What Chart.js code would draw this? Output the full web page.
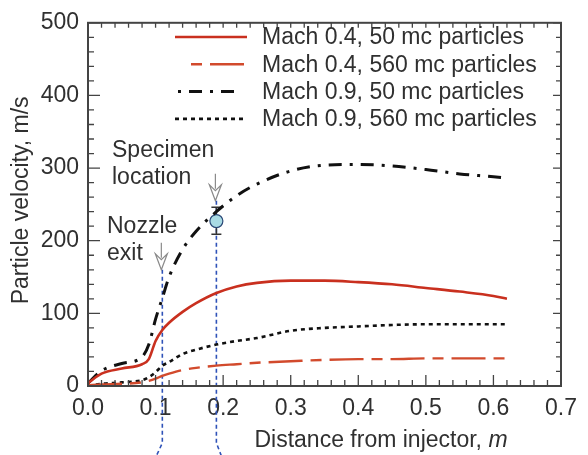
<!DOCTYPE html>
<html>
<head>
<meta charset="utf-8">
<script src="https://cdn.jsdelivr.net/npm/chart.js@4"></script>
<style>
    html, body { margin: 0; padding: 0; background: #fff; }
    canvas { display: block; }
</style>
</head>
<body>
<canvas id="chart" width="588" height="455"></canvas>
<script>
// distance from injector, m
const distance = [0, 0.02, 0.05, 0.08, 0.09, 0.1, 0.11, 0.12, 0.14, 0.16, 0.19, 0.22, 0.25, 0.3, 0.35, 0.4, 0.45, 0.5, 0.55, 0.6, 0.62];

// particle velocity, m/s
const mach04Small = [4, 17, 24, 30, 37, 62, 77, 87, 102, 114, 128, 137, 142, 145, 145, 143, 140, 135, 130, 124, 120];
const mach04Large = [1, 2, 3, 5, 7, 10, 14, 17, 22, 25, 28, 30, 32, 34, 36, 37, 37, 38, 38, 38, 38];
const mach09Small = [4, 21, 31, 40, 57, 92, 121, 150, 188, 213, 240, 262, 278, 296, 304, 305, 303, 298, 292, 288, 286];
const mach09Large = [0, 3, 5, 8, 12, 19, 28, 33, 44, 50, 57, 62, 66, 76, 80, 82, 84, 85, 85, 85, 85];

const seriesNames = [
    "Mach 0.4, 50 mc particles",
    "Mach 0.4, 560 mc particles",
    "Mach 0.9, 50 mc particles",
    "Mach 0.9, 560 mc particles"
];

// measured velocity at the specimen
const measuredX = [0.19];
const measuredY = [227];
const measuredLow = [209];
const measuredHigh = [246];

// nozzle exit and specimen location markers
const markerX = [0.11, 0.19];
const markerTop = [160, 255];

const xTicks = [0, 0.1, 0.2, 0.3, 0.4, 0.5, 0.6, 0.7];
const yTicks = [0, 100, 200, 300, 400, 500];

const FONT = "'Liberation Sans', Arial, sans-serif";
const TEXT = "#303030";

function points(values) {
    return distance.map((d, i) => ({ x: d, y: values[i] }));
}

const decor = {
    id: "decor",
    beforeDatasetsDraw(chart) {
        const { ctx, scales: { x, y } } = chart;

        ctx.save();
        ctx.strokeStyle = "#2f52b8";
        ctx.lineWidth = 1.6;
        ctx.setLineDash([4, 3]);
        markerX.forEach((mx, i) => {
            const px = x.getPixelForValue(mx);
            const bend = i === 0 ? -6 : 5;
            ctx.beginPath();
            ctx.moveTo(px, y.getPixelForValue(markerTop[i]));
            ctx.lineTo(px, 443);
            ctx.lineTo(px + bend, 456);
            ctx.stroke();
        });
        ctx.setLineDash([]);

        // error bar
        ctx.strokeStyle = "#333";
        ctx.lineWidth = 1.5;
        measuredX.forEach((mx, i) => {
            const px = x.getPixelForValue(mx);
            const lo = y.getPixelForValue(measuredLow[i]);
            const hi = y.getPixelForValue(measuredHigh[i]);
            ctx.beginPath();
            ctx.moveTo(px, lo);
            ctx.lineTo(px, hi);
            ctx.moveTo(px - 5, lo);
            ctx.lineTo(px + 5, lo);
            ctx.moveTo(px - 5, hi);
            ctx.lineTo(px + 5, hi);
            ctx.stroke();
        });
        ctx.restore();
    },
    afterDatasetsDraw(chart) {
        const { ctx, chartArea: a, scales: { x, y } } = chart;

        ctx.save();
        ctx.strokeStyle = "#444";
        ctx.lineWidth = 2;
        ctx.strokeRect(a.left, a.top, a.right - a.left, a.bottom - a.top);

        // tick marks, pointing inward
        ctx.lineWidth = 1.3;
        ctx.beginPath();
        for (let i = 0; i <= 35; i++) {
            const px = x.getPixelForValue(i * 0.02);
            const major = i % 5 === 0;
            ctx.moveTo(px, a.bottom);
            ctx.lineTo(px, a.bottom - (major ? 11 : 6));
            ctx.moveTo(px, a.top);
            ctx.lineTo(px, a.top + 5);
        }
        for (let i = 0; i <= 25; i++) {
            const py = y.getPixelForValue(i * 20);
            const major = i % 5 === 0;
            ctx.moveTo(a.left, py);
            ctx.lineTo(a.left + (major ? 12 : 6), py);
            ctx.moveTo(a.right, py);
            ctx.lineTo(a.right - (major ? 8 : 5), py);
        }
        ctx.stroke();

        // arrows
        ctx.strokeStyle = "#8a8a8a";
        ctx.fillStyle = "#fff";
        ctx.lineWidth = 1.2;
        markerX.forEach((mx, i) => {
            const px = x.getPixelForValue(mx) - 1;
            const tip = y.getPixelForValue(markerTop[i]);
            ctx.beginPath();
            ctx.moveTo(px, tip - 27);
            ctx.lineTo(px, tip - 12);
            ctx.stroke();
            ctx.beginPath();
            ctx.moveTo(px, tip);
            ctx.lineTo(px - 6, tip - 16);
            ctx.lineTo(px, tip - 10);
            ctx.lineTo(px + 6, tip - 16);
            ctx.closePath();
            ctx.fill();
            ctx.stroke();
        });

        // annotation text
        ctx.fillStyle = TEXT;
        ctx.font = "23px " + FONT;
        ctx.textAlign = "left";
        ctx.textBaseline = "middle";
        ctx.fillText("Specimen", 112, 151);
        ctx.fillText("location", 112, 178);
        ctx.fillText("Nozzle", 107, 227);
        ctx.fillText("exit", 107, 254);

        // legend
        const sets = chart.data.datasets.slice(0, 4);
        sets.forEach((ds, i) => {
            const ly = 37 + i * 27.3;
            ctx.strokeStyle = ds.borderColor;
            ctx.lineWidth = ds.borderWidth;
            ctx.setLineDash(ds.borderDash || []);
            ctx.lineDashOffset = ds.legendOffset || 0;
            ctx.beginPath();
            ctx.moveTo(ds.legendStart || 175, ly);
            ctx.lineTo(ds.legendEnd || 247, ly);
            ctx.stroke();
            ctx.setLineDash([]);
            ctx.fillStyle = TEXT;
            ctx.fillText(ds.label, 262, ly + 1);
        });

        // axis titles
        const main = "Distance from injector, ";
        ctx.font = "23px " + FONT;
        const w1 = ctx.measureText(main).width;
        ctx.font = "italic 23px " + FONT;
        const w2 = ctx.measureText("m").width;
        const start = 381 - (w1 + w2) / 2;
        ctx.font = "23px " + FONT;
        ctx.fillText(main, start, 441);
        ctx.font = "italic 23px " + FONT;
        ctx.fillText("m", start + w1, 441);

        ctx.translate(22, (a.top + a.bottom) / 2 - 4);
        ctx.rotate(-Math.PI / 2);
        ctx.textAlign = "center";
        ctx.font = "23px " + FONT;
        ctx.fillText("Particle velocity, m/s", 0, 0);
        ctx.restore();
    }
};

new Chart(document.getElementById("chart"), {
    type: "line",
    data: {
        datasets: [
            {
                label: seriesNames[0],
                data: points(mach04Small),
                borderColor: "#c9301f",
                borderWidth: 2.6
            },
            {
                label: seriesNames[1],
                data: points(mach04Large),
                borderColor: "#d24a2c",
                borderWidth: 2.4,
                borderDash: [34, 8, 11, 8],
                legendStart: 191,
                legendOffset: 42
            },
            {
                label: seriesNames[2],
                data: points(mach09Small),
                borderColor: "#111",
                borderWidth: 3,
                borderDash: [13, 8, 3, 8],
                legendStart: 178,
                legendEnd: 240,
                legendOffset: 21
            },
            {
                label: seriesNames[3],
                data: points(mach09Large),
                borderColor: "#111",
                borderWidth: 2.6,
                borderDash: [4, 4]
            },
            {
                type: "scatter",
                label: "Measured",
                data: measuredX.map((mx, i) => ({ x: mx, y: measuredY[i] })),
                backgroundColor: "#a9dbe4",
                borderColor: "#2c4a78",
                borderWidth: 1.2,
                pointRadius: 6.5,
                showLine: false
            }
        ]
    },
    options: {
        responsive: false,
        animation: false,
        layout: { padding: { left: 0, top: 10, right: 27, bottom: 0 } },
        elements: {
            point: { radius: 0 },
            line: { tension: 0.4, cubicInterpolationMode: "monotone", fill: false }
        },
        plugins: {
            legend: { display: false },
            tooltip: { enabled: false }
        },
        scales: {
            x: {
                type: "linear",
                min: 0,
                max: 0.7,
                afterFit(scale) { scale.height = 69; },
                afterBuildTicks(scale) { scale.ticks = xTicks.map((v) => ({ value: v })); },
                grid: { display: false, drawTicks: false },
                border: { display: false },
                ticks: {
                    color: TEXT,
                    padding: 9,
                    maxRotation: 0,
                    font: { family: FONT, size: 23 },
                    callback: (v) => Number(v).toFixed(1)
                }
            },
            y: {
                min: 0,
                max: 500,
                afterFit(scale) { scale.width = 88; },
                afterBuildTicks(scale) { scale.ticks = yTicks.map((v) => ({ value: v })); },
                grid: { display: false, drawTicks: false },
                border: { display: false },
                ticks: {
                    color: TEXT,
                    padding: 9,
                    font: { family: FONT, size: 23 }
                }
            }
        }
    },
    plugins: [decor]
});
</script>
</body>
</html>
